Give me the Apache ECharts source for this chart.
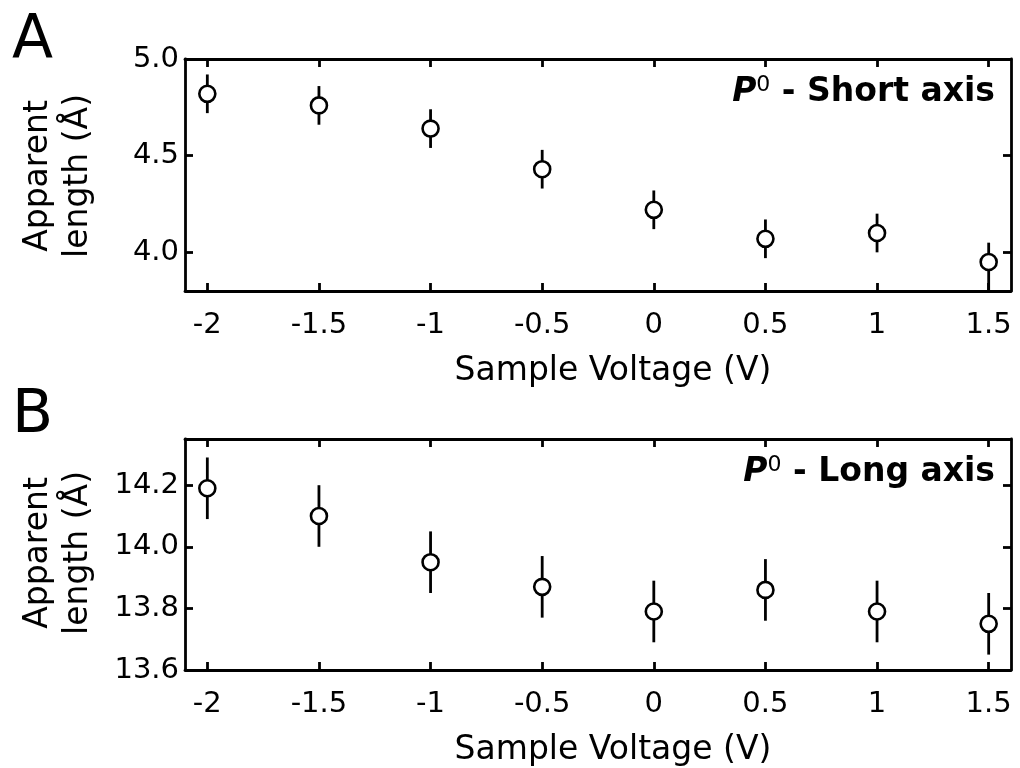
<!DOCTYPE html>
<html>
<head>
<meta charset="utf-8">
<script src="https://cdn.jsdelivr.net/npm/echarts@6/dist/echarts.min.js"></script>
<style>
  html, body { margin: 0; padding: 0; background: #fff; }
  #main { width: 1020px; height: 768px; }
</style>
</head>
<body>
<div id="main"></div>
<script>
var myChart = echarts.init(document.getElementById('main'));

var FONT = 'DejaVu Sans';

// data
var voltage = [-2, -1.5, -1, -0.5, 0, 0.5, 1, 1.5];
var xTicks = [-2, -1.5, -1, -0.5, 0, 0.5, 1, 1.5];

var shortAxis = [4.82, 4.76, 4.64, 4.43, 4.22, 4.07, 4.10, 3.95];
var shortErrLow = [0.1, 0.1, 0.1, 0.1, 0.1, 0.1, 0.1, 0.16];
var shortErrHigh = [0.1, 0.1, 0.1, 0.1, 0.1, 0.1, 0.1, 0.1];
var shortTicks = [4.0, 4.5, 5.0];

var longAxis = [14.19, 14.10, 13.95, 13.87, 13.79, 13.86, 13.79, 13.75];
var longErrLow = [0.1, 0.1, 0.1, 0.1, 0.1, 0.1, 0.1, 0.1];
var longErrHigh = [0.1, 0.1, 0.1, 0.1, 0.1, 0.1, 0.1, 0.1];
var longTicks = [13.6, 13.8, 14.0, 14.2];

function pts(ys) {
    return voltage.map(function (x, i) { return [x, ys[i]]; });
}
function bars(ys, lo, hi) {
    return voltage.map(function (x, i) { return [x, ys[i] - lo[i], ys[i] + hi[i]]; });
}

function errorBar(params, api) {
    var x = api.value(0);
    var p1 = api.coord([x, api.value(1)]);
    var p2 = api.coord([x, api.value(2)]);
    return {
        type: 'line',
        shape: { x1: p1[0], y1: p1[1], x2: p2[0], y2: p2[1] },
        style: { stroke: '#000', lineWidth: 2.8 }
    };
}

var lineStyle = { color: '#000', width: 2.8 };

function xAx(grid, main) {
    return {
        type: 'value', gridIndex: grid, min: -2.1, max: 1.6,
        position: main ? 'bottom' : 'top',
        name: main ? 'Sample Voltage (V)' : '',
        nameLocation: 'middle', nameGap: 64,
        nameTextStyle: { fontFamily: FONT, fontSize: 33, color: '#000', padding: [0, 0, 0, 30] },
        axisLine: { show: true, onZero: false, lineStyle: lineStyle },
        axisTick: { show: true, inside: true, length: 8, lineStyle: lineStyle, customValues: xTicks },
        axisLabel: { show: main, customValues: xTicks, fontFamily: FONT, fontSize: 29, color: '#000', margin: 20 },
        splitLine: { show: false }
    };
}

function yAx(grid, main, min, max, ticks, fmt) {
    return {
        type: 'value', gridIndex: grid, min: min, max: max,
        position: main ? 'left' : 'right',
        axisLine: { show: true, onZero: false, lineStyle: lineStyle },
        axisTick: { show: true, inside: true, length: 8, lineStyle: lineStyle, customValues: ticks },
        axisLabel: {
            show: main, customValues: ticks, fontFamily: FONT, fontSize: 29, color: '#000', margin: 6,
            formatter: function (v) { return v.toFixed(fmt); }
        },
        splitLine: { show: false }
    };
}

function yName(y) {
    return {
        type: 'text', x: 58, y: y, rotation: Math.PI / 2,
        style: {
            text: 'Apparent\nlength (Å)', fontFamily: FONT, fontSize: 33, fill: '#000',
            align: 'center', verticalAlign: 'middle', lineHeight: 40
        }
    };
}

function note(label, right, top) {
    return {
        right: right, top: top, padding: 0,
        text: '{p|P}{s|0}{t| - ' + label + '}',
        textStyle: {
            rich: {
                p: { fontFamily: FONT, fontSize: 33, fontWeight: 'bold', fontStyle: 'italic', color: '#000' },
                s: { fontFamily: FONT, fontSize: 22, fontWeight: 'normal', color: '#000', verticalAlign: 'top', padding: [0, 0, 14, 0] },
                t: { fontFamily: FONT, fontSize: 33, fontWeight: 'bold', color: '#000' }
            }
        }
    };
}

option = {
    backgroundColor: '#ffffff',
    animation: false,
    title: [
        { text: 'A', left: 12, top: 11, padding: 0, textStyle: { fontFamily: FONT, fontSize: 60, fontWeight: 'normal', color: '#000' } },
        { text: 'B', left: 12, top: 386, padding: 0, textStyle: { fontFamily: FONT, fontSize: 60, fontWeight: 'normal', color: '#000' } },
        note('Short axis', 25, 74),
        note('Long axis', 25, 454)
    ],
    graphic: [yName(176), yName(553)],
    grid: [
        { left: 185, top: 59, width: 826, height: 232 },
        { left: 185, top: 439, width: 826, height: 232 }
    ],
    xAxis: [xAx(0, true), xAx(0, false), xAx(1, true), xAx(1, false)],
    yAxis: [
        yAx(0, true, 3.8, 5.0, shortTicks, 1),
        yAx(0, false, 3.8, 5.0, shortTicks, 1),
        yAx(1, true, 13.6, 14.35, longTicks, 1),
        yAx(1, false, 13.6, 14.35, longTicks, 1)
    ],
    series: [
        {
            type: 'custom', xAxisIndex: 0, yAxisIndex: 0, clip: true,
            renderItem: errorBar, encode: { x: 0, y: [1, 2] },
            data: bars(shortAxis, shortErrLow, shortErrHigh), z: 2
        },
        {
            type: 'scatter', xAxisIndex: 0, yAxisIndex: 0,
            symbol: 'circle', symbolSize: 16,
            itemStyle: { color: '#fff', borderColor: '#000', borderWidth: 2.6, opacity: 1 },
            data: pts(shortAxis), z: 3
        },
        {
            type: 'custom', xAxisIndex: 2, yAxisIndex: 2, clip: true,
            renderItem: errorBar, encode: { x: 0, y: [1, 2] },
            data: bars(longAxis, longErrLow, longErrHigh), z: 2
        },
        {
            type: 'scatter', xAxisIndex: 2, yAxisIndex: 2,
            symbol: 'circle', symbolSize: 16,
            itemStyle: { color: '#fff', borderColor: '#000', borderWidth: 2.6, opacity: 1 },
            data: pts(longAxis), z: 3
        }
    ]
};
myChart.setOption(option);
</script>
</body>
</html>
